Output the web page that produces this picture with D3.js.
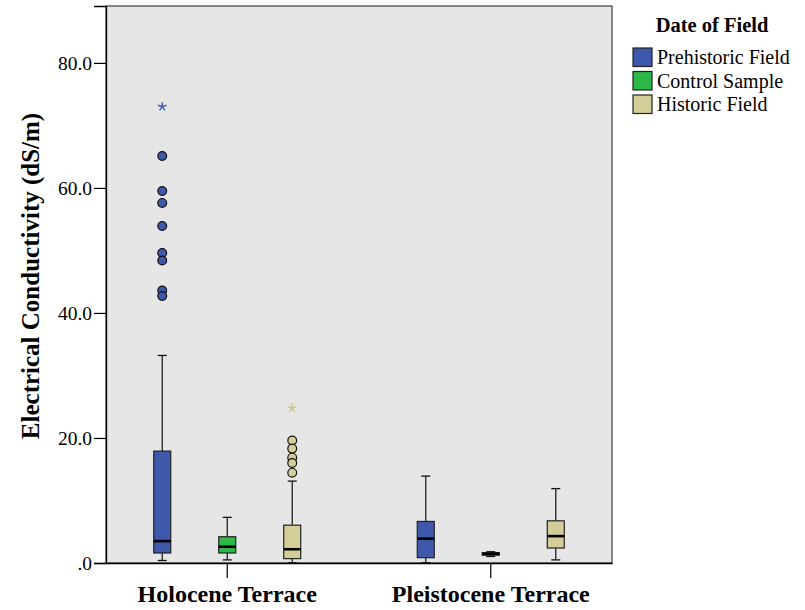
<!DOCTYPE html>
<html>
<head>
<meta charset="utf-8">
<script src="https://cdn.jsdelivr.net/npm/d3@7"></script>
<style>
  body { margin: 0; background: #fff; }
  svg { display: block; }
</style>
</head>
<body>
<svg id="chart" width="805" height="610"></svg>
<script>
const categories = ["Holocene Terrace", "Pleistocene Terrace"];
const series = ["Prehistoric Field", "Control Sample", "Historic Field"];
const seriesColors = ["#3e58ac", "#2eb848", "#d3ce97"];
const yTicks = [0, 20, 40, 60, 80];

// [category, series, lowWhisker, q1, median, q3, highWhisker]
const boxStats = [
  ["Holocene Terrace", "Prehistoric Field", 0.4, 1.6, 3.5, 17.9, 33.2],
  ["Holocene Terrace", "Control Sample", 0.5, 1.6, 2.6, 4.2, 7.3],
  ["Holocene Terrace", "Historic Field", 0.05, 0.7, 2.2, 6.05, 13.1],
  ["Pleistocene Terrace", "Prehistoric Field", 0.05, 0.85, 3.9, 6.65, 13.9],
  ["Pleistocene Terrace", "Control Sample", 1.05, 1.25, 1.47, 1.65, 1.8],
  ["Pleistocene Terrace", "Historic Field", 0.5, 2.4, 4.3, 6.75, 11.9]
];

// outliers (circles)
const outliers = [
  ["Holocene Terrace", "Prehistoric Field", [65.1, 59.5, 57.6, 53.9, 49.6, 48.4, 43.6, 42.7]],
  ["Holocene Terrace", "Historic Field", [19.6, 18.3, 16.85, 16.0, 14.45]]
];

// extremes (stars)
const extremes = [
  ["Holocene Terrace", "Prehistoric Field", [73.0]],
  ["Holocene Terrace", "Historic Field", [24.8]]
];

const svg = d3.select("#chart");
const margin = { left: 106, right: 193, top: 6, bottom: 47 };
const width = 805, height = 610;
const plotW = width - margin.left - margin.right;
const plotH = height - margin.top - margin.bottom;

const x = d3.scaleBand()
  .domain(categories)
  .range([margin.left, margin.left + plotW])
  .paddingInner(0.5)
  .paddingOuter(0.21);
const xInner = d3.scalePoint().domain(series).range([-65, 65]);
const y = d3.scaleLinear().domain([0, 89.1]).range([margin.top + plotH, margin.top]);
const color = d3.scaleOrdinal().domain(series).range(seriesColors);

const cx = (cat, ser) => x(cat) + x.bandwidth() / 2 + xInner(ser);
const boxW = 17, capW = 9;
const serif = "'Liberation Serif', 'Times New Roman', serif";

// plot background
svg.append("rect")
  .attr("x", margin.left).attr("y", margin.top)
  .attr("width", plotW).attr("height", plotH)
  .attr("fill", "#e6e6e6")
  .attr("stroke", "#1a1a1a").attr("stroke-width", 1);

// y axis
const yAxis = svg.append("g")
  .attr("transform", `translate(${margin.left},0)`)
  .call(d3.axisLeft(y).tickValues(yTicks).tickSize(12).tickPadding(2)
    .tickFormat(d => d === 0 ? ".0" : d3.format(".1f")(d)));
yAxis.select(".domain").attr("stroke", "#000").attr("stroke-width", 1.3);
yAxis.selectAll(".tick line").attr("stroke", "#000").attr("stroke-width", 1.2);
yAxis.selectAll("text")
  .attr("font-family", serif).attr("font-size", 19.5).attr("fill", "#000");

// x axis
const xAxis = svg.append("g")
  .attr("transform", `translate(0,${margin.top + plotH})`)
  .call(d3.axisBottom(x).tickSize(15).tickSizeOuter(0).tickPadding(0));
xAxis.select(".domain").attr("stroke", "#000").attr("stroke-width", 1.3);
xAxis.selectAll(".tick line").attr("stroke", "#000").attr("stroke-width", 1.2);
xAxis.selectAll("text")
  .attr("font-family", serif).attr("font-size", 24).attr("font-weight", "bold")
  .attr("fill", "#000").attr("dy", null).attr("y", 39);

// y title
svg.append("text")
  .attr("transform", "translate(39,276) rotate(-90)")
  .attr("text-anchor", "middle")
  .attr("font-family", serif).attr("font-size", 25).attr("font-weight", "bold")
  .text("Electrical Conductivity (dS/m)");

// boxes
const boxes = svg.append("g").selectAll("g")
  .data(boxStats)
  .enter()
  .append("g")
  .attr("transform", d => `translate(${cx(d[0], d[1])},0)`);

boxes.append("line")
  .attr("y1", d => y(d[2])).attr("y2", d => y(d[3]))
  .attr("stroke", "#111").attr("stroke-width", 1.2);
boxes.append("line")
  .attr("y1", d => y(d[5])).attr("y2", d => y(d[6]))
  .attr("stroke", "#111").attr("stroke-width", 1.2);
boxes.append("line")
  .attr("x1", -capW / 2).attr("x2", capW / 2)
  .attr("y1", d => y(d[2])).attr("y2", d => y(d[2]))
  .attr("stroke", "#111").attr("stroke-width", 1.3);
boxes.append("line")
  .attr("x1", -capW / 2).attr("x2", capW / 2)
  .attr("y1", d => y(d[6])).attr("y2", d => y(d[6]))
  .attr("stroke", "#111").attr("stroke-width", 1.3);
boxes.append("rect")
  .attr("x", -boxW / 2).attr("width", boxW)
  .attr("y", d => y(d[5])).attr("height", d => y(d[3]) - y(d[5]))
  .attr("fill", d => color(d[1]))
  .attr("stroke", "#222").attr("stroke-width", 1.2);
boxes.append("line")
  .attr("x1", -boxW / 2).attr("x2", boxW / 2)
  .attr("y1", d => y(d[4])).attr("y2", d => y(d[4]))
  .attr("stroke", "#000").attr("stroke-width", 2.6);

// outlier circles
outliers.forEach(([cat, ser, vals]) => {
  svg.append("g").selectAll("circle")
    .data(vals)
    .enter()
    .append("circle")
    .attr("cx", cx(cat, ser))
    .attr("cy", v => y(v))
    .attr("r", 4.4)
    .attr("fill", color(ser))
    .attr("stroke", "#111").attr("stroke-width", 1.2);
});

// extreme stars (thin five-armed asterisk)
const starPath = d3.range(5).map(i => {
  const a = -Math.PI / 2 + i * 2 * Math.PI / 5;
  return `M0,0L${(4.5 * Math.cos(a)).toFixed(2)},${(4.5 * Math.sin(a)).toFixed(2)}`;
}).join("");
extremes.forEach(([cat, ser, vals]) => {
  svg.append("g").selectAll("path")
    .data(vals)
    .enter()
    .append("path")
    .attr("d", starPath)
    .attr("transform", v => `translate(${cx(cat, ser)},${y(v)})`)
    .attr("fill", "none")
    .attr("stroke", ser === "Historic Field" ? "#c9c68f" : "#3e58ac")
    .attr("stroke-width", 1.4);
});

// legend
const legend = svg.append("g");
legend.append("text")
  .attr("x", 712).attr("y", 31.5)
  .attr("text-anchor", "middle")
  .attr("font-family", serif).attr("font-size", 20.5).attr("font-weight", "bold")
  .text("Date of Field");
const items = legend.selectAll("g.item")
  .data(series)
  .enter()
  .append("g")
  .attr("class", "item")
  .attr("transform", (d, i) => `translate(633,${48 + i * 23.5})`);
items.append("rect")
  .attr("width", 19).attr("height", 18.5)
  .attr("fill", d => color(d))
  .attr("stroke", "#222").attr("stroke-width", 1.2);
items.append("text")
  .attr("x", 24).attr("y", 16)
  .attr("font-family", serif).attr("font-size", 20)
  .text(d => d);
</script>
</body>
</html>
